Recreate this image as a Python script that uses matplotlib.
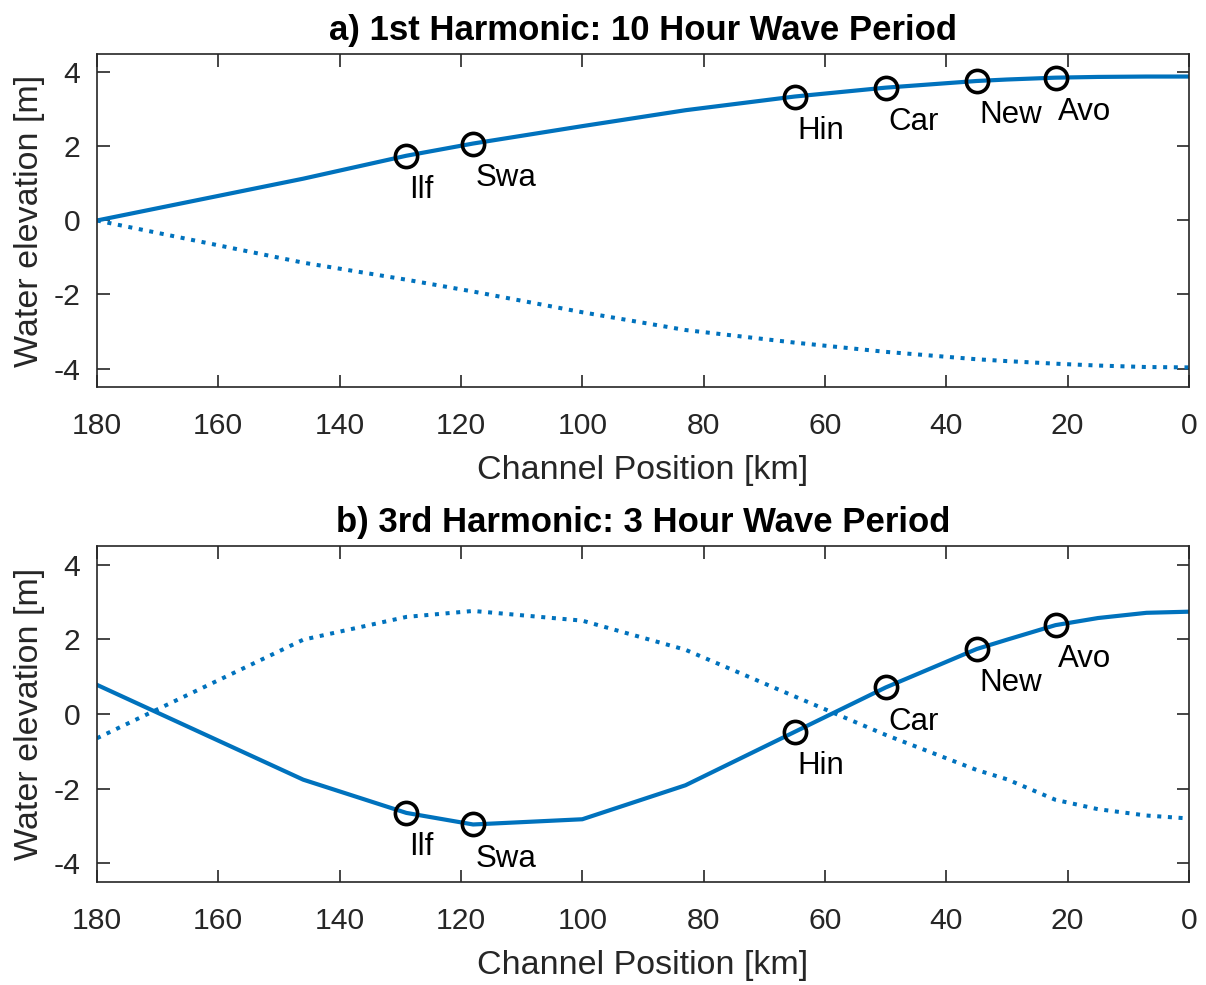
import numpy as np
import matplotlib
matplotlib.use("Agg")
from matplotlib import pyplot as plt

plt.rcParams["font.family"] = ["Liberation Sans", "DejaVu Sans"]
plt.rcParams["axes.unicode_minus"] = False

# channel positions of the model nodes [km]
x_km = [180, 146, 129, 118, 100, 83, 65, 50, 35, 30, 22, 15, 7, 0]

# 1st harmonic (10 h period)
h1_solid = [0.0, 1.13, 1.75, 2.08, 2.55, 2.98, 3.35, 3.59, 3.77, 3.81, 3.86, 3.88, 3.89, 3.89]
h1_dotted = [0.0, -1.14, -1.60, -1.92, -2.48, -2.96, -3.30, -3.55, -3.75, -3.80, -3.87, -3.92, -3.96, -3.97]

# 3rd harmonic (3 h period)
h3_solid = [0.78, -1.76, -2.65, -2.96, -2.82, -1.91, -0.48, 0.71, 1.74, 1.99, 2.38, 2.57, 2.71, 2.74]
h3_dotted = [-0.65, 1.99, 2.60, 2.76, 2.50, 1.72, 0.47, -0.56, -1.50, -1.75, -2.30, -2.55, -2.72, -2.80]

# stations
st_names = ["Ilf", "Swa", "Hin", "Car", "New", "Avo"]
st_km = [129, 118, 65, 50, 35, 22]
st_h1 = [1.75, 2.08, 3.35, 3.59, 3.77, 3.86]
st_h3 = [-2.65, -2.96, -0.48, 0.71, 1.74, 2.38]

titles = ["a) 1st Harmonic: 10 Hour Wave Period", "b) 3rd Harmonic: 3 Hour Wave Period"]

blue = "#0072BD"
dark = "#262626"
fs_tick = 21.7
fs_lab = 24.5
fs_title = 25
fs_st = 22.5

fig = plt.figure(figsize=(12.06, 9.85), dpi=100)
ax1 = fig.add_axes([0.0804, 0.6071, 0.9055, 0.3381])
ax2 = fig.add_axes([0.0804, 0.1046, 0.9055, 0.3411])

panels = [(ax1, h1_solid, h1_dotted, st_h1, titles[0]),
          (ax2, h3_solid, h3_dotted, st_h3, titles[1])]

for ax, solid, dotted, st_y, title in panels:
    ax.plot(x_km, solid, color=blue, lw=3, solid_joinstyle="round")
    ax.plot(x_km, dotted, color=blue, lw=2.9, linestyle=":")
    ax.plot(st_km, st_y, "o", mfc="none", mec="black", ms=16, mew=2.6)
    for name, xs, ys in zip(st_names, st_km, st_y):
        ax.text(xs - 0.4, ys - 0.92, name, fontsize=fs_st, ha="left", va="center", color="black")

    ax.set_xlim(180, 0)
    ax.set_ylim(-4.5, 4.5)
    ax.set_xticks(np.arange(180, -1, -20))
    ax.set_yticks([-4, -2, 0, 2, 4])
    ax.tick_params(direction="in", length=9, width=1.2, colors=dark, labelsize=fs_tick,
                   top=True, right=True)
    ax.tick_params(axis="x", pad=18)
    ax.tick_params(axis="y", pad=12)
    for sp in ax.spines.values():
        sp.set_color(dark)
        sp.set_linewidth(1.2)
    ax.set_xlabel("Channel Position [km]", fontsize=fs_lab, color=dark, labelpad=11)
    ax.set_ylabel("Water elevation [m]", fontsize=fs_lab, color=dark, labelpad=6)
    ax.set_title(title, fontsize=fs_title, fontweight="bold", color="black", pad=10)

fig.savefig("out.png", dpi=100)
